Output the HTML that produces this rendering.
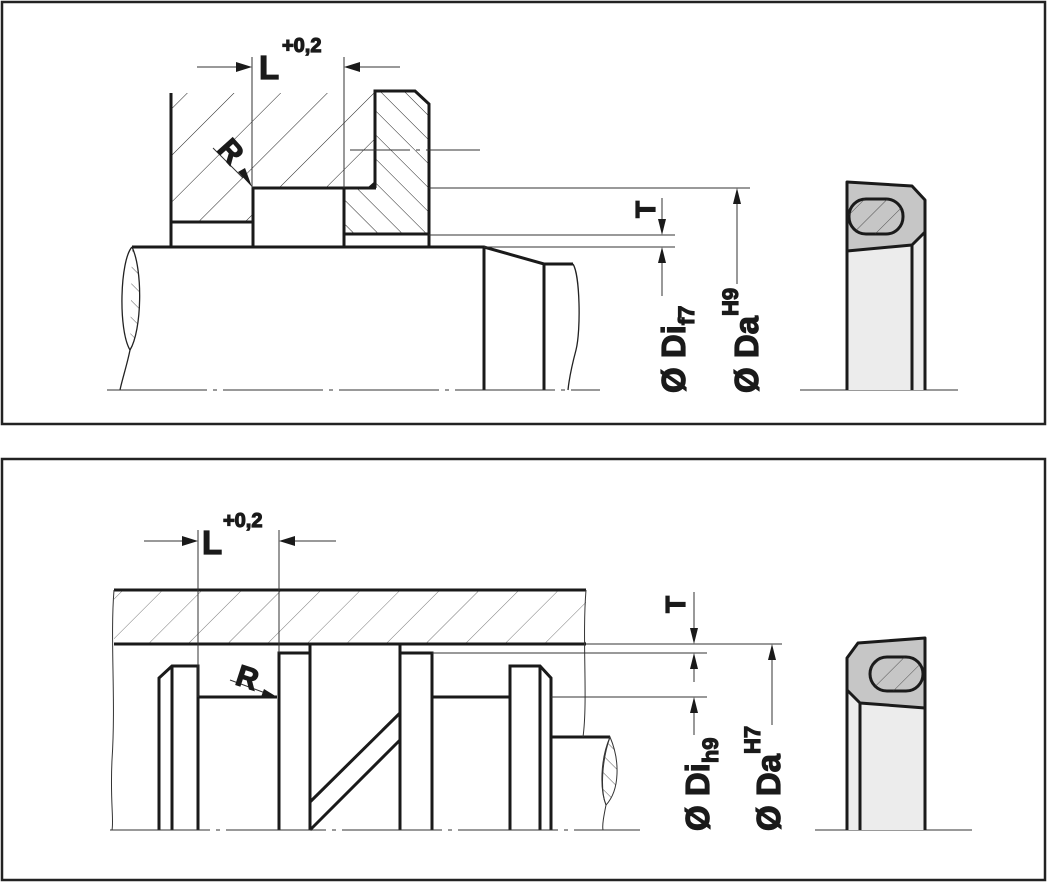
<!DOCTYPE html>
<html><head><meta charset="utf-8"><style>
html,body{margin:0;padding:0;background:#fff}
svg{display:block}
text{font-family:"Liberation Sans",sans-serif;font-weight:bold;fill:#1a1a1a;stroke:#1a1a1a;stroke-width:1.2}
</style></head><body>
<svg width="1048" height="884" viewBox="0 0 1048 884" xmlns="http://www.w3.org/2000/svg">
<defs>
<pattern id="h1" patternUnits="userSpaceOnUse" width="33" height="33" patternTransform="rotate(45)">
<line x1="0" y1="0" x2="0" y2="33" stroke="#222" stroke-width="1"/></pattern>
<pattern id="h2" patternUnits="userSpaceOnUse" width="17" height="17" patternTransform="rotate(-45)">
<line x1="0" y1="0" x2="0" y2="17" stroke="#222" stroke-width="1"/></pattern>
<pattern id="h3" patternUnits="userSpaceOnUse" width="28" height="28" patternTransform="rotate(45)">
<line x1="0" y1="0" x2="0" y2="28" stroke="#555" stroke-width="0.8"/></pattern>
<pattern id="h4" patternUnits="userSpaceOnUse" width="16" height="16" patternTransform="rotate(45)">
<line x1="0" y1="0" x2="0" y2="16" stroke="#333" stroke-width="0.8"/></pattern>
<pattern id="h5" patternUnits="userSpaceOnUse" width="12" height="12" patternTransform="rotate(-45)">
<line x1="0" y1="0" x2="0" y2="12" stroke="#333" stroke-width="0.8"/></pattern>
</defs>

<rect x="2" y="2" width="1043" height="422" fill="none" stroke="#222" stroke-width="2.5"/>
<rect x="2" y="459" width="1043" height="421" fill="none" stroke="#222" stroke-width="2.5"/>

<!-- ===== TOP PANEL ===== -->
<path d="M171,93 L375,93 L375,188 L253,188 L253,222 L171,222 Z" fill="url(#h1)"/>
<path d="M375,91 L415,91 L429,104 L429,234 L344,234 L344,188 L375,188 Z" fill="url(#h2)"/>
<g stroke="#1a1a1a" stroke-width="3" fill="none">
<path d="M171,93 L171,248"/>
<path d="M171,222 L253,222"/>
<path d="M253,248 L253,188 L376,188"/>
<path d="M344,248 L344,188"/>
<path d="M344,234 L429,234"/>
<path d="M375,188 L375,91 L415,91 L429,104 L429,248"/>
<path d="M132,247 L484,247 L544,264 L573,264"/>
<path d="M484,247 L484,390"/>
<path d="M544,264 L544,390"/>
</g>
<path d="M367,188 L375,181 L375,188 Z" fill="#1a1a1a"/>
<path d="M132,247 C120,260 118,330 130,350 C127,365 122,380 120,390" fill="none" stroke="#222" stroke-width="1.3"/>
<path d="M132,247 C143,270 142,330 130,350" fill="url(#h5)" stroke="#222" stroke-width="1.3"/>
<path d="M573,264 C580,275 581,330 576,350 C572,365 569,380 568,390" fill="none" stroke="#222" stroke-width="1.3"/>
<g stroke="#333" stroke-width="1" fill="none">
<line x1="197" y1="67" x2="240" y2="67"/>
<line x1="252" y1="57" x2="252" y2="188"/>
<line x1="344" y1="57" x2="344" y2="188"/>
<line x1="356" y1="67" x2="400" y2="67"/>
<line x1="213" y1="148" x2="243" y2="178"/>
<line x1="429" y1="188" x2="750" y2="188"/>
<line x1="429" y1="235" x2="675" y2="235"/>
<line x1="484" y1="247" x2="675" y2="247"/>
<line x1="662" y1="198" x2="662" y2="224"/>
<line x1="662" y1="258" x2="662" y2="296"/>
<line x1="737" y1="200" x2="737" y2="284"/>
<line x1="350" y1="150" x2="480" y2="150" stroke-dasharray="60,6,4,6"/>
<line x1="107" y1="390" x2="600" y2="390" stroke-dasharray="100,6,4,6"/>
<line x1="800" y1="390" x2="958" y2="390"/>
</g>
<g fill="#1a1a1a">
<path d="M252,67 L236,62 L236,72 Z"/>
<path d="M344,67 L360,62 L360,72 Z"/>
<path d="M252,187 L238,172 L245,168 Z"/>
<path d="M662,235 L658,219 L666,219 Z"/>
<path d="M662,247 L658,263 L666,263 Z"/>
<path d="M737,188 L733,204 L741,204 Z"/>
</g>
<text x="259" y="79" font-size="33">L</text>
<text x="282" y="52" font-size="20">+0,2</text>
<text font-size="30" transform="translate(216,150) rotate(48)">R</text>
<text font-size="28" transform="translate(655,218) rotate(-90)">T</text>
<text font-size="33" transform="translate(685,393) rotate(-90)">Ø Di<tspan font-size="22" dy="9">f7</tspan></text>
<text font-size="33" transform="translate(758,393) rotate(-90)">Ø Da<tspan font-size="22" dy="-20">H9</tspan></text>
<!-- seal top -->
<path d="M847,251 L912,245 L912,390 L847,390 Z" fill="#ececec"/>
<path d="M912,245 L925,232 L925,390 L912,390 Z" fill="#ececec"/>
<path d="M847,182 L912,186 L925,200 L925,232 L912,245 L847,251 Z" fill="#c6c6c6" stroke="#1a1a1a" stroke-width="3" stroke-linejoin="round"/>
<g stroke="#1a1a1a" stroke-width="3" fill="none">
<path d="M847,182 L847,390"/><path d="M912,245 L912,390"/><path d="M925,200 L925,390"/>
</g>
<rect x="849" y="199" width="54" height="35" rx="17" fill="#c6c6c6" stroke="#1a1a1a" stroke-width="3"/>
<rect x="849" y="199" width="54" height="35" rx="17" fill="url(#h4)"/>

<!-- ===== BOTTOM PANEL ===== -->
<rect x="114" y="590" width="472" height="54" fill="url(#h3)"/>
<g stroke="#1a1a1a" stroke-width="3" fill="none">
<line x1="114" y1="590" x2="586" y2="590"/>
<line x1="114" y1="644" x2="586" y2="644"/>
<path d="M159,830 L159,678 L172,666 L198,666 L198,830"/>
<line x1="172" y1="666" x2="172" y2="830"/>
<path d="M198,697 L277,697"/>
<path d="M279,830 L279,653 L310,653"/>
<line x1="310" y1="644" x2="310" y2="830"/>
<line x1="400" y1="644" x2="400" y2="830"/>
<path d="M400,653 L432,653 L432,830"/>
<path d="M432,697 L510,697"/>
<path d="M510,830 L510,666 L540,666 L551,678 L551,830"/>
<line x1="540" y1="666" x2="540" y2="830"/>
<line x1="310" y1="802" x2="400" y2="713"/>
<line x1="310" y1="830" x2="400" y2="740"/>
<line x1="551" y1="737" x2="610" y2="737"/>
</g>
<g stroke="#333" stroke-width="1" fill="none">
<path d="M114,590 C110,640 116,700 112,760 C110,800 114,820 112,830"/>
<path d="M586,590 C582,640 588,700 583,737"/>
<path d="M610,737 C602,760 600,790 606,805 C604,815 602,825 603,830" />
<line x1="144" y1="541" x2="186" y2="541"/>
<line x1="198" y1="530" x2="198" y2="697"/>
<line x1="279" y1="530" x2="279" y2="653"/>
<line x1="290" y1="541" x2="336" y2="541"/>
<line x1="230" y1="680" x2="268" y2="694"/>
<line x1="586" y1="644" x2="782" y2="644"/>
<line x1="432" y1="653" x2="707" y2="653"/>
<line x1="551" y1="697" x2="707" y2="697"/>
<line x1="694" y1="592" x2="694" y2="632"/>
<line x1="694" y1="665" x2="694" y2="682"/>
<line x1="694" y1="709" x2="694" y2="735"/>
<line x1="772" y1="656" x2="772" y2="725"/>
<line x1="110" y1="830" x2="640" y2="830" stroke-dasharray="100,6,4,6"/>
<line x1="815" y1="830" x2="972" y2="830"/>
</g>
<path d="M610,737 C620,760 620,790 606,805 C600,790 600,760 610,737 Z" fill="url(#h5)" stroke="#333" stroke-width="1"/>
<g fill="#1a1a1a">
<path d="M198,541 L182,536 L182,546 Z"/>
<path d="M279,541 L295,536 L295,546 Z"/>
<path d="M277,697 L261,697 L264,689 Z"/>
<path d="M694,644 L690,628 L698,628 Z"/>
<path d="M694,653 L690,669 L698,669 Z"/>
<path d="M694,697 L690,713 L698,713 Z"/>
<path d="M772,644 L768,660 L776,660 Z"/>
</g>
<text x="202" y="554" font-size="33">L</text>
<text x="223" y="527" font-size="20">+0,2</text>
<text font-size="30" transform="translate(234,684) rotate(18)">R</text>
<text font-size="28" transform="translate(685,613) rotate(-90)">T</text>
<text font-size="33" transform="translate(709,831) rotate(-90)">Ø Di<tspan font-size="22" dy="9">h9</tspan></text>
<text font-size="33" transform="translate(780,831) rotate(-90)">Ø Da<tspan font-size="22" dy="-20">H7</tspan></text>
<!-- seal bottom -->
<path d="M860,703 L925,708 L925,830 L860,830 Z" fill="#ececec"/>
<path d="M847,690 L860,703 L860,830 L847,830 Z" fill="#ececec"/>
<path d="M858,643 L925,638 L925,708 L860,703 L847,690 L847,658 Z" fill="#c6c6c6" stroke="#1a1a1a" stroke-width="3" stroke-linejoin="round"/>
<g stroke="#1a1a1a" stroke-width="3" fill="none">
<path d="M847,658 L847,830"/><path d="M860,703 L860,830"/><path d="M925,638 L925,830"/>
</g>
<rect x="870" y="657" width="53" height="34" rx="17" fill="#c6c6c6" stroke="#1a1a1a" stroke-width="3"/>
<rect x="870" y="657" width="53" height="34" rx="17" fill="url(#h4)"/>
</svg>
</body></html>
